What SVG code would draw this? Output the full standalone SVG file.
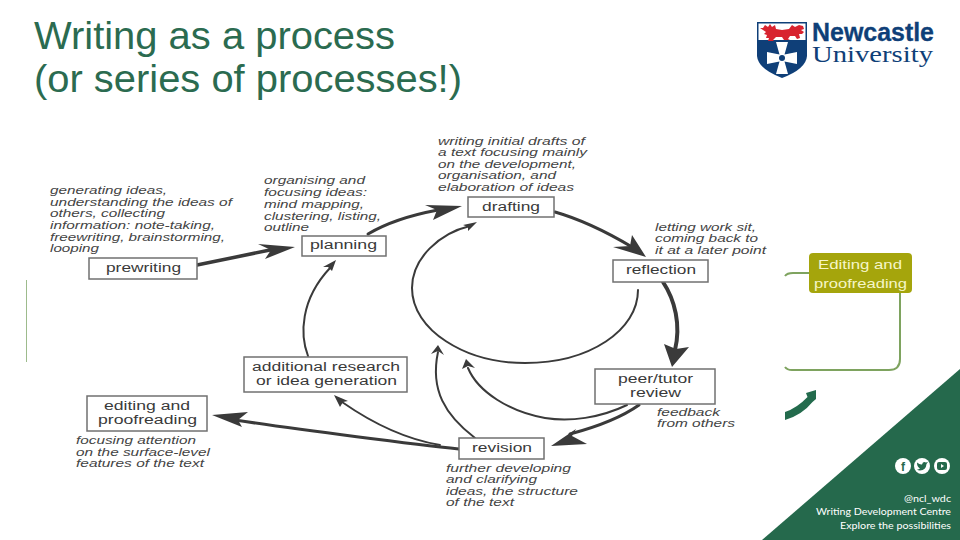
<svg xmlns="http://www.w3.org/2000/svg" width="960" height="540" viewBox="0 0 960 540">
<style>
text{font-family:"Liberation Sans",Arial,sans-serif}
.title{font-size:38px;fill:#2b6b50}
.box{fill:#fff;stroke:#707070;stroke-width:1.5}
.lab{font-size:12.5px;fill:#3a3a3a}
.note{font-size:10.2px;font-style:italic;fill:#444}
.ln{fill:none;stroke:#3a3a3a;stroke-linecap:round}
.hd{fill:#3a3a3a}
.call{fill:none;stroke:#7ea35f;stroke-width:2}
.foot{font-family:"Lato",sans-serif;font-size:10px;fill:#fff}
</style>
<rect width="960" height="540" fill="#fff"/>
<g id="title">
<text class="title" x="34" y="49" textLength="361" lengthAdjust="spacingAndGlyphs">Writing as a process</text>
<text class="title" x="34" y="92" textLength="428" lengthAdjust="spacingAndGlyphs">(or series of processes!)</text>
</g>
<g id="logo">
<path d="M757 22H807V56Q806 69 782 78Q758 69 757 56Z" fill="#0f3f78"/>
<rect x="758.500" y="23.500" width="47" height="16.500" fill="#fff"/>
<path d="M760 28l3 0 2-3 3 2 2-3 2 3 3-2 1 4 6 1 7-1 3-4 3 2 4-2 4 1 1 3-3 1 3 2-2 2-3 0 1 4-3 1-2-3-5 0-2 3 2 1-6 0-2-3-6 0-3 3 1 1-6 0 1-3-3 0 1-3-3-1 2-2-3-2z" fill="#d8232f"/>
<path d="M776 42H788L784.500 54.500L797 52V64L784.500 61.500L788 74H776L779.500 61.500L767 64V52L779.500 54.500Z" fill="#fff"/>
<circle cx="782" cy="58" r="3" fill="#0f3f78"/>
<text x="812" y="40.500" font-size="25" font-weight="700" fill="#0f3f78" stroke="#0f3f78" stroke-width=".3" textLength="122" lengthAdjust="spacingAndGlyphs">Newcastle</text>
<text x="812" y="62" font-size="23" fill="#0f3f78" style="font-family:'Liberation Serif',serif" textLength="121" lengthAdjust="spacingAndGlyphs">University</text>
</g>
<path id="left-rule" d="M26.500 280V362" stroke="#9dbb8c" stroke-width="1" fill="none"/>
<g id="connectors">
<path class="ln" stroke-width="3.500" d="M197 265L270 250"/>
<polygon class="hd" points="295,247 258,244 271,250 265,259"/>
<path class="ln" stroke-width="3" d="M368 234Q395 218 438 210"/>
<polygon class="hd" points="462,206 425,205 437,210 433,220"/>
<path class="ln" stroke-width="3" d="M555 212Q590 222 632 247"/>
<polygon class="hd" points="646,257 632,235 630,246 613,247"/>
<path class="ln" stroke-width="4" d="M663 282C675 300 681 325 675 350"/>
<polygon class="hd" points="672,367 664,344 676,349 689,347"/>
<path class="ln" stroke-width="2" d="M638 290C638 330 590 363 525 363C465 363 412 330 412 288C412 258 440 233 470 226"/>
<polygon class="hd" points="477,222 463,225 468,227 468,231"/>
<path class="ln" stroke-width="2" d="M308 356C300 335 300 300 330 268"/>
<polygon class="hd" points="336,260 323,267 328,267 332,271"/>
<path class="ln" stroke-width="3" d="M639 405Q615 422 570 434"/>
<polygon class="hd" points="551,446 576,429 572,436 587,444"/>
<path class="ln" stroke-width="2" d="M627 405C600 418 570 422 545 418C510 412 478 392 468 368"/>
<polygon class="hd" points="466,359 462,369 468,366 475,368"/>
<path class="ln" stroke-width="2" d="M475 438C445 415 430 390 438 352"/>
<polygon class="hd" points="438,345 431,354 438,351 444,355"/>
<path class="ln" stroke-width="3" d="M459 449C420 445 300 430 235 420"/>
<polygon class="hd" points="212,415 248,412 238,420 242,427"/>
<path class="ln" stroke-width="1.800" d="M440 445C410 440 375 425 342 402"/>
<polygon class="hd" points="334,395 348,401 343,402 340,407"/>
<path class="call" d="M809 273H793Q787 273 785 276"/>
<path class="call" d="M900 293V359Q900 370 889 370H792Q787 370 785 367"/>
<path fill="#236b4d" d="M785 412Q797 408 807.500 397L806 393L816 390L816 399L812.500 402Q802 415 785 420Z"/>
</g>
<g id="prewriting">
<rect class="box" x="89" y="258" width="108" height="21"/>
<text class="lab" x="106" y="272" textLength="75" lengthAdjust="spacingAndGlyphs">prewriting</text>
<text class="note" x="50" y="194" textLength="117" lengthAdjust="spacingAndGlyphs">generating ideas,</text>
<text class="note" x="50" y="206" textLength="182" lengthAdjust="spacingAndGlyphs">understanding the ideas of</text>
<text class="note" x="50" y="217" textLength="115" lengthAdjust="spacingAndGlyphs">others, collecting</text>
<text class="note" x="50" y="229" textLength="165" lengthAdjust="spacingAndGlyphs">information: note-taking,</text>
<text class="note" x="50" y="241" textLength="175" lengthAdjust="spacingAndGlyphs">freewriting, brainstorming,</text>
<text class="note" x="50" y="252" textLength="49" lengthAdjust="spacingAndGlyphs">looping</text>
</g>
<g id="planning">
<rect class="box" x="302" y="236" width="84" height="20"/>
<text class="lab" x="310" y="249" textLength="67" lengthAdjust="spacingAndGlyphs">planning</text>
<text class="note" x="264" y="184" textLength="101" lengthAdjust="spacingAndGlyphs">organising and</text>
<text class="note" x="264" y="196" textLength="103" lengthAdjust="spacingAndGlyphs">focusing ideas:</text>
<text class="note" x="264" y="208" textLength="100" lengthAdjust="spacingAndGlyphs">mind mapping,</text>
<text class="note" x="264" y="220" textLength="117" lengthAdjust="spacingAndGlyphs">clustering, listing,</text>
<text class="note" x="264" y="231" textLength="45" lengthAdjust="spacingAndGlyphs">outline</text>
</g>
<g id="drafting">
<rect class="box" x="468" y="197" width="86" height="20"/>
<text class="lab" x="482" y="211" textLength="58" lengthAdjust="spacingAndGlyphs">drafting</text>
<text class="note" x="438" y="145" textLength="147" lengthAdjust="spacingAndGlyphs">writing initial drafts of</text>
<text class="note" x="438" y="156" textLength="149" lengthAdjust="spacingAndGlyphs">a text focusing mainly</text>
<text class="note" x="438" y="168" textLength="138" lengthAdjust="spacingAndGlyphs">on the development,</text>
<text class="note" x="438" y="179" textLength="118" lengthAdjust="spacingAndGlyphs">organisation, and</text>
<text class="note" x="438" y="191" textLength="136" lengthAdjust="spacingAndGlyphs">elaboration of ideas</text>
</g>
<g id="reflection">
<rect class="box" x="613" y="260" width="95" height="22"/>
<text class="lab" x="626" y="274" textLength="70" lengthAdjust="spacingAndGlyphs">reflection</text>
<text class="note" x="655" y="231" textLength="101" lengthAdjust="spacingAndGlyphs">letting work sit,</text>
<text class="note" x="655" y="242" textLength="103" lengthAdjust="spacingAndGlyphs">coming back to</text>
<text class="note" x="655" y="254" textLength="111" lengthAdjust="spacingAndGlyphs">it at a later point</text>
</g>
<g id="peer-tutor-review">
<rect class="box" x="595" y="369" width="120" height="35"/>
<text class="lab" x="618" y="383" textLength="75" lengthAdjust="spacingAndGlyphs">peer/tutor</text>
<text class="lab" x="630" y="397" textLength="51" lengthAdjust="spacingAndGlyphs">review</text>
<text class="note" x="657" y="416" textLength="63" lengthAdjust="spacingAndGlyphs">feedback</text>
<text class="note" x="657" y="427" textLength="78" lengthAdjust="spacingAndGlyphs">from others</text>
</g>
<g id="revision">
<rect class="box" x="459" y="438" width="85" height="21"/>
<text class="lab" x="472" y="452" textLength="60" lengthAdjust="spacingAndGlyphs">revision</text>
<text class="note" x="446" y="472" textLength="125" lengthAdjust="spacingAndGlyphs">further developing</text>
<text class="note" x="446" y="483" textLength="91" lengthAdjust="spacingAndGlyphs">and clarifying</text>
<text class="note" x="446" y="495" textLength="132" lengthAdjust="spacingAndGlyphs">ideas, the structure</text>
<text class="note" x="446" y="506" textLength="68" lengthAdjust="spacingAndGlyphs">of the text</text>
</g>
<g id="additional-research">
<rect class="box" x="244" y="357" width="163" height="35"/>
<text class="lab" x="252" y="371" textLength="148" lengthAdjust="spacingAndGlyphs">additional research</text>
<text class="lab" x="256" y="385" textLength="141" lengthAdjust="spacingAndGlyphs">or idea generation</text>
</g>
<g id="editing-proofreading">
<rect class="box" x="87" y="396" width="120" height="35"/>
<text class="lab" x="104" y="410" textLength="86" lengthAdjust="spacingAndGlyphs">editing and</text>
<text class="lab" x="98" y="424" textLength="99" lengthAdjust="spacingAndGlyphs">proofreading</text>
<text class="note" x="76" y="444" textLength="120" lengthAdjust="spacingAndGlyphs">focusing attention</text>
<text class="note" x="76" y="456" textLength="134" lengthAdjust="spacingAndGlyphs">on the surface-level</text>
<text class="note" x="76" y="467" textLength="128" lengthAdjust="spacingAndGlyphs">features of the text</text>
</g>
<g id="editing-callout">
<rect x="809" y="253" width="103" height="40" rx="4" fill="#a5a50c"/>
<text x="818" y="269" font-size="13.500" fill="#f6f6c8" textLength="84" lengthAdjust="spacingAndGlyphs">Editing and</text>
<text x="814" y="288" font-size="13.500" fill="#f6f6c8" textLength="93" lengthAdjust="spacingAndGlyphs">proofreading</text>
</g>
<g id="footer">
<polygon points="960,369 762,540 960,540" fill="#25694c"/>
<circle cx="903" cy="466" r="8" fill="#fff"/>
<circle cx="922" cy="466" r="8" fill="#fff"/>
<circle cx="942" cy="466" r="8" fill="#fff"/>
<text x="903" y="470.500" text-anchor="middle" font-size="12" font-weight="700" fill="#25694c">f</text>
<path d="M917 462.500Q920 465 922 464.500Q923 461 926 462.500L928 462L926.500 464Q926 470 920 470.500Q918 470.500 917 469.500Q919 469.500 920 468.500Q917 467 917 462.500Z" fill="#25694c"/>
<rect x="937" y="462" width="10" height="8" rx="2" fill="#25694c"/>
<polygon points="941,464 944,466 941,468" fill="#fff"/>
<text class="foot" x="904" y="502" textLength="47" lengthAdjust="spacingAndGlyphs">@ncl_wdc</text>
<text class="foot" x="816" y="515" textLength="135" lengthAdjust="spacingAndGlyphs">Writing Development Centre</text>
<text class="foot" x="840" y="529" textLength="111" lengthAdjust="spacingAndGlyphs">Explore the possibilities</text>
</g>
</svg>
